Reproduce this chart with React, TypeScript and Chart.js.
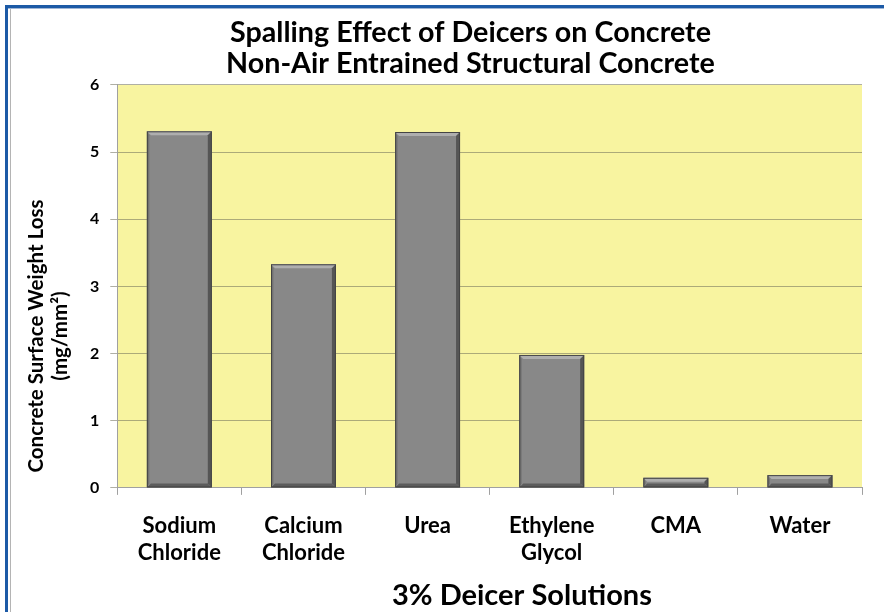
import React, { useEffect, useRef } from "react";
import { Chart, registerables } from "chart.js";
Chart.register(...registerables);

const categories: string[][] = [
  ["Sodium", "Chloride"],
  ["Calcium", "Chloride"],
  ["Urea"],
  ["Ethylene", "Glycol"],
  ["CMA"],
  ["Water"],
];
const weightLoss: number[] = [5.31, 3.33, 5.3, 1.98, 0.15, 0.19];
const yMin = 0;
const yMax = 6;
const yStep = 1;
const titleLines: string[] = [
  "Spalling Effect of Deicers on Concrete",
  "Non-Air Entrained Structural Concrete",
];
const yTitleLines: string[] = ["Concrete Surface Weight Loss", "(mg/mm²)"];
const xTitle = "3% Deicer Solutions";

const FONT = "Lato, 'Open Sans', sans-serif";

const plotBg = {
  id: "plotBg",
  beforeDraw(chart: any) {
    const { ctx, chartArea } = chart;
    if (!chartArea) return;
    ctx.save();
    ctx.fillStyle = "#f8f4a0";
    ctx.fillRect(chartArea.left, chartArea.top, chartArea.right - chartArea.left, chartArea.bottom - chartArea.top);
    ctx.restore();
  },
};

const bevel = {
  id: "bevel",
  afterDatasetsDraw(chart: any) {
    const { ctx } = chart;
    const meta = chart.getDatasetMeta(0);
    meta.data.forEach((bar: any) => {
      const p = bar.getProps(["x", "y", "base", "width"], true);
      const l = p.x - p.width / 2;
      const r = p.x + p.width / 2;
      const t = Math.min(p.y, p.base);
      const b = Math.max(p.y, p.base);
      const h = b - t;
      const bv = Math.min(4, h / 2.5);
      ctx.save();
      ctx.fillStyle = "#aeaeae";
      ctx.beginPath();
      ctx.moveTo(l, t);
      ctx.lineTo(r, t);
      ctx.lineTo(r - bv, t + bv);
      ctx.lineTo(l + bv, t + bv);
      ctx.closePath();
      ctx.fill();
      ctx.fillStyle = "#555555";
      ctx.beginPath();
      ctx.moveTo(r, t);
      ctx.lineTo(r, b);
      ctx.lineTo(r - bv, b - bv);
      ctx.lineTo(r - bv, t + bv);
      ctx.closePath();
      ctx.fill();
      ctx.fillStyle = "#5c5c5c";
      ctx.beginPath();
      ctx.moveTo(l, b);
      ctx.lineTo(r, b);
      ctx.lineTo(r - bv, b - bv);
      ctx.lineTo(l + bv, b - bv);
      ctx.closePath();
      ctx.fill();
      ctx.fillStyle = "#727272";
      ctx.beginPath();
      ctx.moveTo(l, t);
      ctx.lineTo(l, b);
      ctx.lineTo(l + bv * 0.6, b - bv);
      ctx.lineTo(l + bv * 0.6, t + bv);
      ctx.closePath();
      ctx.fill();
      ctx.strokeStyle = "#444444";
      ctx.lineWidth = 1;
      ctx.strokeRect(l + 0.5, t + 0.5, r - l - 1, h - 1);
      ctx.restore();
    });
  },
};

const axisTitles = {
  id: "axisTitles",
  afterDraw(chart: any) {
    const { ctx } = chart;
    ctx.save();
    ctx.fillStyle = "#000";
    ctx.font = `bold 20.5px ${FONT}`;
    ctx.textAlign = "center";
    ctx.textBaseline = "middle";
    const cy = 336;
    const xs = [36, 60];
    yTitleLines.forEach((line, i) => {
      ctx.save();
      ctx.translate(xs[i], cy);
      ctx.rotate(-Math.PI / 2);
      ctx.fillText(line, 0, 0);
      ctx.restore();
    });
    ctx.font = `bold 29px ${FONT}`;
    ctx.textAlign = "left";
    ctx.textBaseline = "alphabetic";
    ctx.fillText(xTitle, 392, 605);
    ctx.restore();
  },
};

export default function App() {
  const ref = useRef<HTMLCanvasElement | null>(null);
  useEffect(() => {
    if (!ref.current) return;
    const chart = new Chart(ref.current, {
      type: "bar",
      data: {
        labels: categories,
        datasets: [
          {
            data: weightLoss,
            backgroundColor: "#888888",
            borderWidth: 0,
            barPercentage: 0.523,
            categoryPercentage: 1,
          },
        ],
      },
      options: {
        animation: false,
        responsive: false,
        maintainAspectRatio: false,
        devicePixelRatio: 1,
        layout: { padding: { left: 79, right: 22, top: 0, bottom: 29 } },
        plugins: {
          legend: { display: false },
          tooltip: { enabled: false },
          title: {
            display: true,
            text: titleLines,
            color: "#000",
            font: { family: FONT, size: 28.7, weight: "bold", lineHeight: 1.08 },
            padding: { top: 17, bottom: 6 },
          },
        },
        scales: {
          x: {
            grid: {
              offset: true,
              drawOnChartArea: false,
              drawTicks: true,
              tickLength: 7,
              color: "#a0a0a0",
            },
            border: { display: true, color: "#a0a0a0" },
            ticks: {
              color: "#000",
              font: { family: FONT, size: 22, weight: "bold", lineHeight: 1.23 },
              padding: 17,
              maxRotation: 0,
              autoSkip: false,
            },
          },
          y: {
            min: yMin,
            max: yMax,
            grid: {
              color: "rgba(110,110,90,0.55)",
              tickLength: 7,
              drawTicks: true,
            },
            border: { display: true, color: "#a0a0a0" },
            ticks: {
              stepSize: yStep,
              color: "#000",
              font: { family: FONT, size: 16, weight: "bold" },
              padding: 11,
            },
          },
        },
      },
      plugins: [plotBg, bevel, axisTitles],
    });
    return () => chart.destroy();
  }, []);

  return (
    <div style={{ position: "fixed", left: 0, top: 0, width: 884, height: 612, background: "#fff", overflow: "hidden" }}>
      <canvas ref={ref} width={884} height={612} style={{ position: "absolute", left: 0, top: 0, width: 884, height: 612 }} />
      <div style={{ position: "absolute", left: 5, top: 5, width: 879, height: 3, background: "#1c5aa6" }} />
      <div style={{ position: "absolute", left: 5, top: 5, width: 3, height: 607, background: "#1c5aa6" }} />
      <div style={{ position: "absolute", left: 8, top: 8, width: 876, height: 1, background: "#9fb6d6" }} />
      <div style={{ position: "absolute", left: 10, top: 9, width: 1, height: 603, background: "#b4b4b4" }} />
    </div>
  );
}
